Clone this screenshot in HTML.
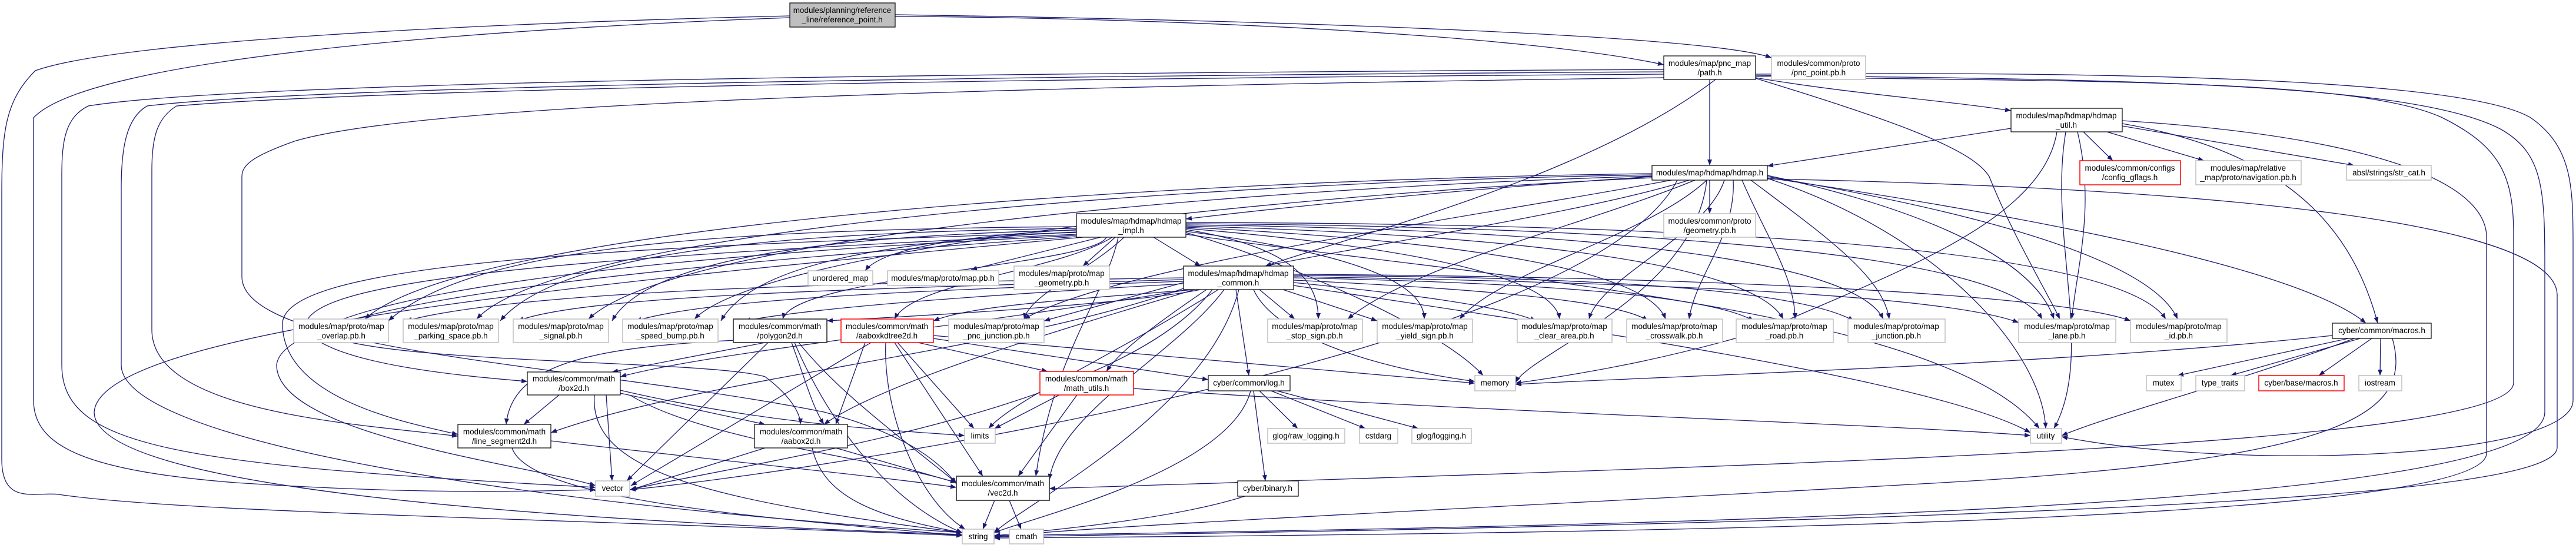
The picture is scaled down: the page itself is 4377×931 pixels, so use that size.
<!DOCTYPE html>
<html><head><meta charset="utf-8"><style>
html,body{margin:0;padding:0;background:#fff;}
svg{display:block;}
text{font-family:"Liberation Sans",sans-serif;font-size:13.5px;fill:#000;text-anchor:middle;}
.e{fill:none;stroke:#191970;stroke-width:1.3;marker-end:url(#a);}
.n{fill:#fff;stroke:#000;stroke-width:1.2;}
.g{fill:#fff;stroke:#bfbfbf;stroke-width:1.5;}
.r{fill:#fff;stroke:#ff0000;stroke-width:1.5;}
.d{fill:#fff;stroke:#404040;stroke-width:1.8;}
</style></head><body>
<svg width="4377" height="931" viewBox="0 0 4377 931" xmlns="http://www.w3.org/2000/svg">
<defs><marker id="a" markerWidth="10" markerHeight="8" refX="10" refY="4" orient="auto" markerUnits="userSpaceOnUse"><path d="M0,0 L10,4 L0,8z" fill="#191970"/></marker></defs>
<g>
<!-- root -->
<path class="e" d="M1521 28 C2000 30,2600 60,2827 110"/>
<path class="e" d="M1521 25 C2200 35,2900 60,3010 98"/>
<path class="e" d="M1342 27 C800 40,200 70,60 120 C10 170,3 220,3 330 L3 780 C3 860,60 835,100 840 C300 870,900 880,1635 910"/>
<path class="e" d="M1342 30 C800 50,150 100,57 200 L57 680 C57 760,150 800,400 820 C700 840,900 835,1012 832"/>
<!-- path.h -->
<path class="e" d="M2905 135 L2905 281"/>
<path class="e" d="M2915 135 C2700 300,2300 400,2150 452"/>
<path class="e" d="M2983 132 C3150 160,3300 170,3417 188"/>
<path class="e" d="M2983 133 C3200 200,3350 250,3380 300 C3420 400,3480 500,3500 542"/>
<path class="e" d="M2827 118 C1500 125,400 140,150 180 C110 200,105 240,105 300 L105 620 C105 760,300 790,1012 828"/>
<path class="e" d="M2827 122 C1500 130,500 150,250 180 C215 200,206 250,206 320 L206 620 C206 740,800 850,1635 905"/>
<path class="e" d="M2827 126 C1500 135,600 155,300 180 C268 200,258 230,258 290 L258 560 C258 700,600 720,778 741"/>
<path class="e" d="M2827 132 C1500 150,700 180,500 240 C430 265,411 280,411 300 L411 470 C411 600,1000 620,1400 700 C1550 740,1600 790,1625 822"/>
<path class="e" d="M2983 130 C3500 140,4000 130,4150 200 C4250 250,4271 300,4271 400 L4271 650 C4271 760,3000 790,1783 830"/>
<path class="e" d="M2983 128 C3600 135,4100 140,4250 220 C4320 260,4324 320,4324 450 L4324 700 C4324 860,3000 890,1689 910"/>
<path class="e" d="M2983 126 C3700 120,4200 140,4300 200 C4372 250,4372 320,4372 420 L4372 680 C4372 780,3800 800,3503 742"/>
<!-- util -->
<path class="e" d="M3417 218 L3003 282"/>
<path class="e" d="M3540 224 L3590 273"/>
<path class="e" d="M3580 224 L3745 273"/>
<path class="e" d="M3606 214 L4000 281"/>
<path class="e" d="M3606 205 C4000 230,4220 300,4225 400 L4225 770 C4225 880,3000 905,1689 914"/>
<path class="e" d="M3510 224 C3480 400,3560 600,3490 728"/>
<path class="e" d="M3495 224 C3470 380,3200 470,3000 560 C2800 620,2650 640,2575 651"/>
<path class="e" d="M3530 224 C3560 350,3530 450,3520 542"/>
<path class="e" d="M3606 210 C3900 260,4000 400,4040 549"/>
<!-- hdmap.h -->
<path class="e" d="M2807 300 C2500 320,2200 350,2015 372"/>
<path class="e" d="M2905 306 L2905 363"/>
<path class="e" d="M2870 306 C2700 360,2300 420,2150 452"/>
<path class="e" d="M2807 295 C2000 305,800 380,620 542"/>
<path class="e" d="M2807 297 C2000 310,950 390,810 542"/>
<path class="e" d="M2807 299 C2100 320,1150 400,1000 542"/>
<path class="e" d="M2807 302 C2200 330,1300 420,1180 542"/>
<path class="e" d="M2840 306 C2500 370,1900 450,1740 542"/>
<path class="e" d="M2880 306 C2700 380,2400 450,2290 542"/>
<path class="e" d="M2900 306 C2800 400,2550 460,2480 542"/>
<path class="e" d="M2930 306 C2900 400,2720 470,2700 542"/>
<path class="e" d="M2945 306 C2950 400,2880 470,2870 542"/>
<path class="e" d="M2960 306 C3000 400,3050 470,3050 542"/>
<path class="e" d="M2975 306 C3100 400,3200 470,3210 542"/>
<path class="e" d="M3003 298 C3200 340,3450 420,3490 542"/>
<path class="e" d="M3003 300 C3300 350,3650 430,3700 542"/>
<path class="e" d="M3003 302 C3400 360,3900 450,4020 549"/>
<path class="e" d="M3003 304 C3800 320,4340 380,4345 500 L4345 760 C4345 830,3800 880,1689 912"/>
<path class="e" d="M2850 306 C2700 600,1400 800,1070 832"/>
<path class="e" d="M2900 306 C2880 500,2600 600,2575 650"/>
<path class="e" d="M3003 303 C3300 400,3470 600,3476 728"/>
<!-- impl -->
<path class="e" d="M1870 403 L1650 458"/>
<path class="e" d="M1895 403 L1840 452"/>
<path class="e" d="M1960 403 L2040 452"/>
<path class="e" d="M1829 390 C1650 400,1500 420,1470 460"/>
<path class="e" d="M1829 385 C1200 390,800 420,660 545"/>
<path class="e" d="M1829 388 C1300 395,950 430,850 545"/>
<path class="e" d="M1829 391 C1400 400,1100 440,1040 545"/>
<path class="e" d="M1829 394 C1500 410,1280 450,1225 545"/>
<path class="e" d="M1880 403 C1860 450,1350 470,1330 542"/>
<path class="e" d="M1890 403 C1800 460,1550 480,1520 542"/>
<path class="e" d="M1910 403 C1850 460,1750 500,1740 542"/>
<path class="e" d="M2015 390 C2200 420,2240 480,2240 542"/>
<path class="e" d="M2015 393 C2300 430,2420 480,2420 542"/>
<path class="e" d="M2015 388 C2400 420,2640 470,2650 542"/>
<path class="e" d="M2015 386 C2500 410,2800 460,2830 542"/>
<path class="e" d="M2015 384 C2600 400,2980 450,3030 542"/>
<path class="e" d="M2015 382 C2700 390,3150 440,3200 542"/>
<path class="e" d="M2015 380 C2800 385,3400 430,3470 542"/>
<path class="e" d="M2015 378 C2900 380,3600 420,3680 542"/>
<path class="e" d="M1829 395 C1000 420,480 450,480 550 C480 680,700 720,778 738"/>
<path class="e" d="M1829 398 C900 440,500 480,520 560 C560 620,800 640,896 648"/>
<path class="e" d="M1829 400 C1200 430,700 480,540 560 C600 620,1200 610,1300 640 C1340 670,1360 700,1360 721"/>
<path class="e" d="M1829 402 C1000 460,480 520,470 620 C470 740,900 790,1012 825"/>
<path class="e" d="M1840 403 C1000 480,170 560,160 700 C160 820,800 880,1635 908"/>
<path class="e" d="M2015 395 C2200 450,2450 560,2520 638"/>
<path class="e" d="M2015 398 C2500 470,3300 520,3465 728"/>
<path class="e" d="M1900 403 C1880 500,1790 600,1760 809"/>
<!-- common -->
<path class="e" d="M2011 480 L1774 545"/>
<path class="e" d="M2011 472 C1500 480,900 490,690 545"/>
<path class="e" d="M2011 475 C1500 490,1000 500,880 545"/>
<path class="e" d="M2011 478 C1500 495,1200 510,1080 545"/>
<path class="e" d="M2011 482 C1700 500,1400 520,1265 545"/>
<path class="e" d="M2040 492 C1900 520,1500 540,1405 545"/>
<path class="e" d="M2030 492 C1800 510,1650 520,1586 545"/>
<path class="e" d="M2140 492 L2200 542"/>
<path class="e" d="M2180 492 L2340 545"/>
<path class="e" d="M2198 480 C2400 500,2550 520,2610 545"/>
<path class="e" d="M2198 476 C2500 490,2750 510,2800 545"/>
<path class="e" d="M2198 472 C2600 480,2900 500,2980 545"/>
<path class="e" d="M2198 468 C2700 470,3050 490,3150 545"/>
<path class="e" d="M2198 470 C2800 480,3300 500,3430 548"/>
<path class="e" d="M2198 466 C2900 470,3500 500,3620 545"/>
<path class="e" d="M2050 492 C1950 560,1900 600,1880 631"/>
<path class="e" d="M2100 492 L2122 638"/>
<path class="e" d="M2130 492 C2160 560,2300 620,2506 648"/>
<path class="e" d="M2020 492 C1600 560,1200 600,1054 640"/>
<path class="e" d="M2030 492 C1800 560,1500 650,1400 721"/>
<path class="e" d="M2011 490 C1700 600,1200 640,936 735"/>
<path class="e" d="M2080 492 C2000 600,1800 700,1783 815"/>
<path class="e" d="M2105 492 C2050 700,1750 850,1689 905"/>
<path class="e" d="M2060 492 C1900 700,1300 780,1070 832"/>
<path class="e" d="M2070 492 C1900 600,1720 680,1680 728"/>
<path class="e" d="M2198 485 C2700 560,3300 650,3450 735"/>
<!-- polygon -->
<path class="e" d="M1300 582 L1040 632"/>
<path class="e" d="M1250 578 C1000 590,870 620,860 721"/>
<path class="e" d="M1305 582 L1065 817"/>
<path class="e" d="M1345 582 C1370 650,1380 690,1400 721"/>
<path class="e" d="M1357 582 C1420 660,1500 720,1625 820"/>
<path class="e" d="M1350 582 C1400 700,1500 850,1635 905"/>
<!-- kdtree -->
<path class="e" d="M1470 582 L1420 721"/>
<path class="e" d="M1480 582 L1072 825"/>
<path class="e" d="M1525 582 L1655 728"/>
<path class="e" d="M1520 582 L1670 809"/>
<path class="e" d="M1586 575 L2053 645"/>
<path class="e" d="M1586 570 C1900 600,2300 630,2506 651"/>
<path class="e" d="M1560 582 L1780 631"/>
<path class="e" d="M1505 582 C1500 700,1560 850,1640 899"/>
<!-- box2d -->
<path class="e" d="M950 671 L890 721"/>
<path class="e" d="M1054 668 L1300 721"/>
<path class="e" d="M1030 671 L1040 817"/>
<path class="e" d="M1070 671 C1200 750,1500 780,1625 820"/>
<path class="e" d="M1010 671 C1000 800,1200 850,1635 905"/>
<path class="e" d="M1054 663 C1300 720,1500 730,1639 740"/>
<!-- line_seg / aabox -->
<path class="e" d="M936 749 C1200 780,1500 810,1625 828"/>
<path class="e" d="M870 761 C900 850,1300 880,1635 910"/>
<path class="e" d="M1300 761 L1072 832"/>
<path class="e" d="M1420 761 L1625 820"/>
<path class="e" d="M1380 761 C1400 850,1500 880,1635 905"/>
<!-- math utils -->
<path class="e" d="M1800 671 L1690 728"/>
<path class="e" d="M1830 671 L1730 809"/>
<path class="e" d="M1926 660 C2500 700,3200 720,3450 740"/>
<!-- log -->
<path class="e" d="M2140 664 L2205 728"/>
<path class="e" d="M2160 664 L2320 728"/>
<path class="e" d="M2170 664 L2410 728"/>
<path class="e" d="M2130 664 L2150 817"/>
<path class="e" d="M2125 664 C2090 800,1750 880,1689 905"/>
<!-- vec2d / binary -->
<path class="e" d="M1690 850 L1670 899"/>
<path class="e" d="M1715 850 L1735 899"/>
<path class="e" d="M2115 843 C2000 880,1800 900,1689 910"/>
<!-- macros -->
<path class="e" d="M3990 575 L3700 638"/>
<path class="e" d="M4010 575 L3790 638"/>
<path class="e" d="M4030 575 L3940 638"/>
<path class="e" d="M4045 575 L4044 638"/>
<path class="e" d="M4000 575 C3800 650,3600 700,3503 740"/>
<path class="e" d="M3963 570 C3500 620,2800 640,2575 653"/>
<path class="e" d="M4065 575 C4100 700,4000 780,3300 820 C2600 860,1900 890,1689 912"/>
</g>
<g>
<!-- nodes -->
<rect x="1342" y="5" width="179" height="41" fill="#bfbfbf" stroke="#000" stroke-width="1.2"/>
<text x="1431" y="22">modules/planning/reference</text><text x="1431" y="38">_line/reference_point.h</text>

<rect class="n" x="2827" y="95" width="156" height="40"/><text x="2905" y="112">modules/map/pnc_map</text><text x="2905" y="128">/path.h</text>
<rect class="g" x="3010" y="95" width="160" height="40"/><text x="3090" y="112">modules/common/proto</text><text x="3090" y="128">/pnc_point.pb.h</text>
<rect class="n" x="3417" y="184" width="189" height="40"/><text x="3511" y="201">modules/map/hdmap/hdmap</text><text x="3511" y="217">_util.h</text>
<rect class="n" x="2807" y="281" width="196" height="25"/><text x="2905" y="298">modules/map/hdmap/hdmap.h</text>
<rect class="r" x="3534" y="273" width="171" height="41"/><text x="3619" y="290">modules/common/configs</text><text x="3619" y="306">/config_gflags.h</text>
<rect class="g" x="3731" y="273" width="179" height="41"/><text x="3820" y="290">modules/map/relative</text><text x="3820" y="306">_map/proto/navigation.pb.h</text>
<rect class="g" x="3987" y="281" width="144" height="25"/><text x="4059" y="298">absl/strings/str_cat.h</text>
<rect class="n" x="1829" y="363" width="186" height="40"/><text x="1922" y="380">modules/map/hdmap/hdmap</text><text x="1922" y="396">_impl.h</text>
<rect class="g" x="2827" y="363" width="156" height="40"/><text x="2905" y="380">modules/common/proto</text><text x="2905" y="396">/geometry.pb.h</text>
<rect class="g" x="1508" y="460" width="189" height="25"/><text x="1602" y="477">modules/map/proto/map.pb.h</text>
<rect class="g" x="1723" y="452" width="162" height="40"/><text x="1804" y="469">modules/map/proto/map</text><text x="1804" y="485">_geometry.pb.h</text>
<rect class="n" x="2011" y="452" width="187" height="40"/><text x="2104" y="469">modules/map/hdmap/hdmap</text><text x="2104" y="485">_common.h</text>
<rect class="g" x="1373" y="460" width="110" height="25"/><text x="1428" y="477">unordered_map</text>

<rect class="g" x="499" y="542" width="161" height="40"/><text x="580" y="559">modules/map/proto/map</text><text x="580" y="575">_overlap.pb.h</text>
<rect class="g" x="685" y="542" width="162" height="40"/><text x="766" y="559">modules/map/proto/map</text><text x="766" y="575">_parking_space.pb.h</text>
<rect class="g" x="872" y="542" width="162" height="40"/><text x="953" y="559">modules/map/proto/map</text><text x="953" y="575">_signal.pb.h</text>
<rect class="g" x="1058" y="542" width="162" height="40"/><text x="1139" y="559">modules/map/proto/map</text><text x="1139" y="575">_speed_bump.pb.h</text>
<rect class="d" x="1246" y="542" width="159" height="40"/><text x="1325" y="559">modules/common/math</text><text x="1325" y="575">/polygon2d.h</text>
<rect class="r" x="1429" y="542" width="157" height="40"/><text x="1507" y="559">modules/common/math</text><text x="1507" y="575">/aaboxkdtree2d.h</text>
<rect class="g" x="1612" y="542" width="162" height="40"/><text x="1693" y="559">modules/map/proto/map</text><text x="1693" y="575">_pnc_junction.pb.h</text>
<rect class="g" x="2154" y="542" width="161" height="40"/><text x="2234" y="559">modules/map/proto/map</text><text x="2234" y="575">_stop_sign.pb.h</text>
<rect class="g" x="2340" y="542" width="162" height="40"/><text x="2421" y="559">modules/map/proto/map</text><text x="2421" y="575">_yield_sign.pb.h</text>
<rect class="g" x="2578" y="542" width="161" height="40"/><text x="2658" y="559">modules/map/proto/map</text><text x="2658" y="575">_clear_area.pb.h</text>
<rect class="g" x="2764" y="542" width="163" height="40"/><text x="2845" y="559">modules/map/proto/map</text><text x="2845" y="575">_crosswalk.pb.h</text>
<rect class="g" x="2950" y="542" width="165" height="40"/><text x="3032" y="559">modules/map/proto/map</text><text x="3032" y="575">_road.pb.h</text>
<rect class="g" x="3140" y="542" width="165" height="40"/><text x="3222" y="559">modules/map/proto/map</text><text x="3222" y="575">_junction.pb.h</text>
<rect class="g" x="3430" y="542" width="165" height="40"/><text x="3512" y="559">modules/map/proto/map</text><text x="3512" y="575">_lane.pb.h</text>
<rect class="g" x="3620" y="542" width="164" height="40"/><text x="3702" y="559">modules/map/proto/map</text><text x="3702" y="575">_id.pb.h</text>
<rect class="n" x="3963" y="549" width="168" height="26"/><text x="4047" y="566">cyber/common/macros.h</text>

<rect class="n" x="896" y="632" width="158" height="39"/><text x="975" y="648">modules/common/math</text><text x="975" y="664">/box2d.h</text>
<rect class="r" x="1767" y="631" width="159" height="40"/><text x="1846" y="648">modules/common/math</text><text x="1846" y="664">/math_utils.h</text>
<rect class="n" x="2053" y="638" width="139" height="26"/><text x="2122" y="655">cyber/common/log.h</text>
<rect class="g" x="2506" y="638" width="69" height="26"/><text x="2540" y="655">memory</text>
<rect class="g" x="3647" y="638" width="59" height="26"/><text x="3676" y="655">mutex</text>
<rect class="g" x="3731" y="638" width="83" height="26"/><text x="3772" y="655">type_traits</text>
<rect class="r" x="3838" y="638" width="145" height="26"/><text x="3910" y="655">cyber/base/macros.h</text>
<rect class="g" x="4008" y="638" width="73" height="26"/><text x="4044" y="655">iostream</text>

<rect class="n" x="778" y="721" width="158" height="40"/><text x="857" y="738">modules/common/math</text><text x="857" y="754">/line_segment2d.h</text>
<rect class="n" x="1282" y="721" width="158" height="40"/><text x="1361" y="738">modules/common/math</text><text x="1361" y="754">/aabox2d.h</text>
<rect class="g" x="1639" y="728" width="52" height="25"/><text x="1665" y="745">limits</text>
<rect class="g" x="2154" y="728" width="131" height="25"/><text x="2219" y="745">glog/raw_logging.h</text>
<rect class="g" x="2310" y="728" width="65" height="25"/><text x="2342" y="745">cstdarg</text>
<rect class="g" x="2399" y="728" width="101" height="25"/><text x="2449" y="745">glog/logging.h</text>
<rect class="g" x="3450" y="728" width="53" height="25"/><text x="3476" y="745">utility</text>

<rect class="g" x="1012" y="817" width="58" height="26"/><text x="1041" y="834">vector</text>
<rect class="d" x="1625" y="809" width="158" height="41"/><text x="1704" y="826">modules/common/math</text><text x="1704" y="842">/vec2d.h</text>
<rect class="n" x="2103" y="817" width="103" height="26"/><text x="2154" y="834">cyber/binary.h</text>
<rect class="g" x="1635" y="899" width="54" height="25"/><text x="1662" y="916">string</text>
<rect class="g" x="1715" y="899" width="58" height="25"/><text x="1744" y="916">cmath</text>
</g>
</svg>
</body></html>
